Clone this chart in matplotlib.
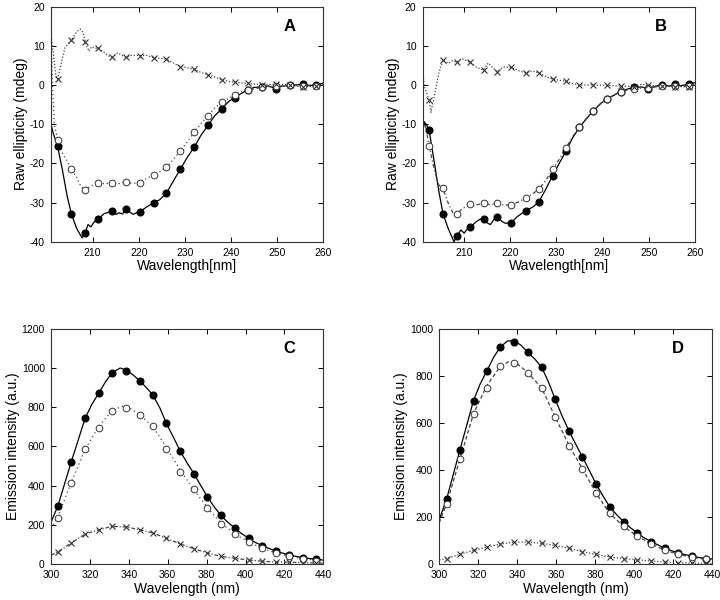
import matplotlib
matplotlib.use('Agg')
import matplotlib.pyplot as plt

plt.rcParams['font.family'] = ['Liberation Sans', 'DejaVu Sans']
plt.rcParams['axes.unicode_minus'] = False

# ---- CD spectra, panel A ----
cd_mark_x = [202.4, 205.4, 208.4, 211.2, 214.2, 217.2, 220.2, 223.2, 226.0, 229.0,
             232.0, 235.0, 238.0, 240.8, 243.6, 246.8, 249.7, 252.8, 255.5, 258.5]
a_filled = [-15.6, -32.9, -37.7, -34.2, -32.1, -31.7, -32.3, -30.0, -27.6, -21.5,
            -15.9, -10.3, -6.1, -3.2, -1.3, -0.5, -0.9, -0.1, 0.2, 0.0]
a_open = [-14.0, -21.4, -26.8, -24.9, -24.9, -24.7, -24.9, -22.9, -21.0, -16.8,
          -12.0, -7.8, -4.4, -2.6, -1.3, -0.6, -0.3, -0.1, -0.3, -0.2]
a_cross = [1.5, 11.4, 11.0, 9.4, 7.1, 7.1, 7.5, 7.0, 6.6, 4.7,
           4.0, 2.6, 1.4, 0.7, 0.4, 0.1, 0.2, 0.0, -0.5, -0.2]

a_solid_x = [201.0, 201.5, 202.4, 203.5, 204.5, 205.4, 206.5, 207.7, 208.4, 209.0, 209.6,
             210.3, 211.2, 212.5, 213.4, 214.2, 215.0, 215.8, 216.5, 217.2, 218.0, 218.8,
             219.5, 220.2, 221.5, 223.2, 224.5, 226.0, 227.5, 229.0, 230.5, 232.0, 233.5,
             235.0, 236.5, 238.0, 239.5, 240.8, 242.0, 243.6, 245.0, 246.8, 248.0, 249.7,
             251.0, 252.8, 254.0, 255.5, 257.0, 258.5, 260.0]
a_solid_y = [-10.0, -12.5, -15.6, -22.0, -28.5, -32.9, -36.5, -39.0, -37.7, -35.6, -36.2,
             -35.0, -34.2, -32.8, -32.5, -32.1, -33.0, -32.6, -32.9, -31.7, -32.4, -33.0,
             -32.6, -32.3, -31.3, -30.0, -29.3, -27.6, -24.5, -21.5, -18.5, -15.9, -12.8,
             -10.3, -7.8, -6.1, -4.2, -3.2, -2.3, -1.3, -0.6, -0.5, -0.2, -0.9,
             -0.3, -0.1, 0.0, 0.2, -0.1, 0.0, 0.5]
a_dot_x = [201.0, 201.3, 201.7, 202.4, 203.5, 204.5, 205.4, 206.5, 207.5, 208.4, 209.5,
           211.2, 212.5, 214.2, 215.5, 217.2, 218.5, 220.2, 221.5, 223.2, 224.5, 226.0,
           227.5, 229.0, 230.5, 232.0, 233.5, 235.0, 236.5, 238.0, 239.5, 240.8, 242.0,
           243.6, 246.8, 249.7, 252.8, 255.5, 258.5, 260.0]
a_dot_y = [12.0, 0.0, -10.0, -14.0, -17.5, -19.5, -21.4, -23.5, -26.0, -26.8, -25.8,
           -24.9, -25.2, -24.9, -25.2, -24.7, -25.1, -24.9, -24.0, -22.9, -22.2, -21.0,
           -19.0, -16.8, -14.5, -12.0, -9.8, -7.8, -5.8, -4.4, -3.4, -2.6, -1.8,
           -1.3, -0.6, -0.3, -0.1, -0.3, -0.2, 0.3]
a_xline_x = [201.0, 201.5, 202.0, 202.4, 203.0, 204.0, 205.4, 206.5, 207.3, 207.9, 208.4,
             209.2, 209.8, 210.5, 211.2, 212.5, 213.5, 214.2, 215.5, 216.3, 217.2, 218.5,
             220.2, 221.5, 223.2, 224.5, 226.0, 227.5, 229.0, 230.5, 232.0, 233.5, 235.0,
             236.5, 238.0, 239.5, 240.8, 243.6, 246.8, 249.7, 252.8, 255.5, 258.5, 260.0]
a_xline_y = [12.5, 8.0, 2.5, 1.5, 4.5, 9.5, 11.4, 13.5, 14.3, 13.5, 11.0,
             8.6, 9.8, 9.4, 9.4, 8.3, 7.4, 7.1, 8.2, 7.6, 7.1, 7.6,
             7.5, 7.6, 7.0, 6.8, 6.6, 5.6, 4.7, 4.4, 4.0, 3.2, 2.6,
             2.0, 1.4, 0.9, 0.7, 0.4, 0.1, 0.2, 0.0, -0.5, -0.2, 0.3]

# ---- CD spectra, panel B ----
b_mark_x = [202.4, 205.4, 208.4, 211.3, 214.2, 217.2, 220.2, 223.3, 226.2, 229.2,
            232.1, 235.0, 238.0, 240.9, 243.9, 246.9, 249.9, 252.9, 255.7, 258.8]
b_filled = [-11.5, -32.8, -38.5, -36.3, -34.1, -33.6, -35.1, -32.1, -29.8, -23.1,
            -16.8, -10.8, -6.6, -3.6, -1.7, -0.6, -0.9, 0.0, 0.3, 0.3]
b_open = [-15.5, -26.4, -32.8, -30.4, -30.2, -30.2, -30.6, -28.9, -26.6, -21.5,
          -16.0, -10.8, -6.6, -3.6, -1.7, -0.9, -0.7, -0.3, -0.2, -0.3]
b_cross = [-3.8, 6.4, 5.8, 5.8, 3.8, 3.4, 4.5, 3.1, 3.1, 1.5,
           0.9, 0.0, 0.0, -0.1, -0.3, -0.4, -0.1, -0.3, -0.4, -0.4]

b_solid_x = [201.0, 201.4, 202.0, 202.4, 203.5, 204.5, 205.4, 206.5, 207.8, 208.4, 209.3,
             210.0, 210.5, 211.3, 212.5, 213.5, 214.2, 215.0, 215.7, 216.5, 217.2, 218.2,
             219.0, 220.2, 221.5, 223.3, 224.8, 226.2, 227.5, 229.2, 230.7, 232.1, 233.5,
             235.0, 236.5, 238.0, 239.5, 240.9, 242.5, 243.9, 245.5, 246.9, 248.5, 249.9,
             251.5, 252.9, 254.5, 255.7, 257.0, 258.8, 260.0]
b_solid_y = [-12.0, -9.5, -10.5, -11.5, -19.5, -27.0, -32.8, -36.5, -40.0, -38.5, -37.0,
             -37.8, -37.0, -36.3, -35.0, -34.2, -34.1, -35.2, -35.6, -34.2, -33.6, -34.8,
             -35.3, -35.1, -33.6, -32.1, -31.2, -29.8, -27.0, -23.1, -19.8, -16.8, -13.5,
             -10.8, -8.6, -6.6, -4.8, -3.6, -2.6, -1.7, -1.0, -0.6, -0.5, -0.9,
             -0.3, 0.0, -0.3, 0.3, -0.2, 0.3, 0.6]
b_dash_x = [201.0, 201.4, 202.4, 203.5, 204.5, 205.4, 206.5, 207.5, 208.4, 209.7, 211.3,
            212.5, 214.2, 215.5, 217.2, 218.5, 220.2, 221.8, 223.3, 224.8, 226.2, 227.7,
            229.2, 230.7, 232.1, 233.5, 235.0, 236.5, 238.0, 239.5, 240.9, 242.5, 243.9,
            245.5, 246.9, 249.9, 252.9, 255.7, 258.8, 260.0]
b_dash_y = [-10.5, -9.1, -15.5, -21.5, -25.5, -26.4, -30.0, -32.5, -32.8, -31.5, -30.4,
            -30.6, -30.2, -30.5, -30.2, -30.6, -30.6, -29.8, -28.9, -27.8, -26.6, -24.3,
            -21.5, -18.8, -16.0, -13.2, -10.8, -8.5, -6.6, -4.9, -3.6, -2.5, -1.7,
            -1.2, -0.9, -0.7, -0.3, -0.2, -0.3, 0.0]
b_xline_x = [201.0, 201.3, 201.7, 202.4, 202.8, 203.5, 204.5, 205.4, 206.5, 207.5, 208.4,
             209.5, 210.3, 211.3, 212.7, 214.2, 215.2, 216.3, 217.2, 218.5, 220.2, 221.7,
             223.3, 224.7, 226.2, 227.7, 229.2, 230.7, 232.1, 233.5, 235.0, 238.0, 240.9,
             243.9, 246.9, 248.5, 249.9, 252.9, 255.7, 258.8, 260.0]
b_xline_y = [5.0, 0.0, -1.5, -3.8, -7.0, -3.0, 3.0, 6.4, 5.5, 6.2, 5.8,
             6.8, 6.3, 5.8, 4.5, 3.8, 5.6, 4.3, 3.4, 4.6, 4.5, 3.7,
             3.1, 3.6, 3.1, 2.2, 1.5, 1.2, 0.9, 0.4, 0.0, 0.0, -0.1,
             -0.3, -0.4, 0.2, -0.1, -0.3, -0.4, -0.4, 0.0]

# ---- fluorescence, panel C ----
c_mark_x = [303.4, 310.3, 317.5, 324.4, 331.3, 338.5, 345.5, 352.4, 359.3, 366.5,
            373.5, 380.4, 387.3, 394.7, 401.7, 408.6, 415.6, 422.5, 429.4, 436.3]
c_filled = [294, 519, 744, 870, 975, 987, 936, 861, 717, 574,
            460, 342, 248, 182, 131, 94, 65, 46, 32, 24]
c_open = [235, 412, 589, 694, 780, 797, 759, 703, 589, 471,
          381, 284, 203, 151, 112, 80, 54, 39, 26, 17]
c_cross = [61, 107, 153, 174, 192, 189, 175, 158, 131, 102,
           78, 56, 39, 29, 20, 14, 10, 9, 7, 5]
c_solid_x = [300.0, 303.4, 310.3, 317.5, 321.0, 324.4, 328.0, 331.3, 335.5, 338.5, 342.0,
             345.5, 349.0, 352.4, 356.0, 359.3, 363.0, 366.5, 370.0, 373.5, 377.0, 380.4,
             383.8, 387.3, 391.0, 394.7, 398.0, 401.7, 405.0, 408.6, 415.6, 422.5, 429.4,
             436.3, 440.0]
c_solid_y = [215, 294, 519, 744, 815, 870, 930, 975, 1000, 990, 966,
             936, 900, 861, 795, 717, 645, 574, 515, 460, 400, 342,
             293, 248, 212, 182, 155, 131, 110, 94, 65, 46, 32,
             24, 20]
c_dot_x = [300.0, 303.4, 310.3, 317.5, 324.4, 331.3, 336.5, 340.5, 345.5, 352.4, 359.3,
           366.5, 373.5, 380.4, 387.3, 394.7, 401.7, 408.6, 415.6, 422.5, 429.4, 436.3, 440.0]
c_dot_y = [180, 240, 415, 585, 700, 782, 805, 795, 762, 700, 595,
           478, 378, 288, 210, 152, 112, 80, 56, 40, 28, 19, 15]
c_xline_x = [300.0] + c_mark_x + [440.0]
c_xline_y = [45] + c_cross + [4]

# ---- fluorescence, panel D ----
d_mark_x = [303.8, 310.6, 317.6, 324.5, 331.4, 338.4, 345.4, 352.6, 359.5, 366.7,
            373.5, 380.5, 387.4, 394.6, 401.6, 408.8, 415.7, 422.5, 429.7, 436.7]
d_filled = [276, 484, 695, 822, 923, 946, 901, 836, 701, 564,
            455, 340, 244, 180, 132, 95, 67, 47, 33, 23]
d_open = [256, 445, 639, 748, 840, 854, 814, 748, 625, 503,
          404, 302, 215, 160, 119, 85, 59, 42, 28, 21]
d_cross = [23, 41, 58, 72, 85, 93, 93, 88, 79, 67,
           52, 41, 30, 23, 18, 13, 8, 6, 4, 3]
d_solid_x = [300.0, 303.8, 310.6, 317.6, 321.0, 324.5, 328.0, 331.4, 335.0, 338.4, 342.0,
             345.4, 349.0, 352.6, 356.0, 359.5, 363.0, 366.7, 370.0, 373.5, 377.0, 380.5,
             384.0, 387.4, 391.0, 394.6, 398.0, 401.6, 405.0, 408.8, 415.7, 422.5, 429.7,
             436.7, 440.0]
d_solid_y = [188, 276, 484, 695, 765, 822, 880, 923, 948, 950, 930,
             901, 872, 836, 775, 701, 630, 564, 510, 455, 398, 340,
             290, 244, 210, 180, 155, 132, 112, 95, 67, 47, 33,
             23, 21]
d_dash_x = [300.0, 303.8, 310.6, 317.6, 324.5, 331.4, 336.0, 340.0, 345.4, 352.6, 359.5,
            366.7, 373.5, 380.5, 387.4, 394.6, 401.6, 408.8, 415.7, 422.5, 429.7, 436.7, 440.0]
d_dash_y = [175, 256, 445, 639, 760, 840, 862, 852, 814, 748, 625,
            503, 404, 302, 215, 160, 119, 85, 59, 42, 28, 21, 18]
d_xline_x = [300.0] + d_mark_x + [440.0]
d_xline_y = [18] + d_cross + [2]

fig = plt.figure(figsize=(7.2, 6.0), dpi=100)
axA = fig.add_axes([0.071, 0.597, 0.378, 0.392])
axB = fig.add_axes([0.587, 0.597, 0.378, 0.392])
axC = fig.add_axes([0.071, 0.060, 0.378, 0.392])
axD = fig.add_axes([0.610, 0.060, 0.379, 0.392])

mk = dict(linestyle='none', markersize=4.8)


def style(ax, letter, xlab, ylab):
    ax.tick_params(direction='in', top=True, right=True, length=3.5, width=0.7,
                   labelsize=7.5)
    ax.tick_params(axis='x', pad=4.5)
    ax.tick_params(axis='y', pad=4.5)
    for s in ax.spines.values():
        s.set_linewidth(0.8)
        s.set_color('#333333')
    ax.set_xlabel(xlab, fontsize=10, labelpad=1)
    ax.set_ylabel(ylab, fontsize=10, labelpad=1)
    ax.text(0.875, 0.915, letter, transform=ax.transAxes, fontsize=12,
            fontweight='bold', ha='center', va='center')


def draw(ax, sx, sy, ox, oy, ostyle, xx, xy, xstyle, mx, fy, oyv, cy):
    ax.plot(sx, sy, color='black', lw=0.9)
    ax.plot(ox, oy, color='#444444', lw=0.9, linestyle=ostyle)
    ax.plot(xx, xy, color='#444444', lw=0.9, linestyle=xstyle)
    ax.plot(mx, fy, marker='o', color='black', **mk)
    ax.plot(mx, oyv, marker='o', mfc='white', mec='#333333', mew=0.7, **mk)
    ax.plot(mx, cy, marker='x', color='#333333', mew=0.8, **mk)


draw(axA, a_solid_x, a_solid_y, a_dot_x, a_dot_y, (0, (1, 2.2)),
     a_xline_x, a_xline_y, (0, (1, 1.5)), cd_mark_x, a_filled, a_open, a_cross)
draw(axB, b_solid_x, b_solid_y, b_dash_x, b_dash_y, (0, (3, 2, 1, 2)),
     b_xline_x, b_xline_y, (0, (1, 1.5)), b_mark_x, b_filled, b_open, b_cross)
draw(axC, c_solid_x, c_solid_y, c_dot_x, c_dot_y, (0, (1, 2.5)),
     c_xline_x, c_xline_y, (0, (3, 1.5, 1, 1.5)), c_mark_x, c_filled, c_open, c_cross)
draw(axD, d_solid_x, d_solid_y, d_dash_x, d_dash_y, (0, (3, 2)),
     d_xline_x, d_xline_y, (0, (1, 1.5)), d_mark_x, d_filled, d_open, d_cross)

for ax in (axA, axB):
    ax.set_xlim(201, 260)
    ax.set_ylim(-40, 20)
    ax.set_xticks([210, 220, 230, 240, 250, 260])
    ax.set_yticks([-40, -30, -20, -10, 0, 10, 20])
style(axA, 'A', 'Wavelength[nm]', 'Raw ellipticity (mdeg)')
style(axB, 'B', 'Wavelength[nm]', 'Raw ellipticity (mdeg)')

axC.set_xlim(300, 440)
axC.set_ylim(0, 1200)
axC.set_xticks(range(300, 441, 20))
axC.set_yticks(range(0, 1201, 200))
style(axC, 'C', 'Wavelength (nm)', 'Emission intensity (a.u.)')

axD.set_xlim(300, 440)
axD.set_ylim(0, 1000)
axD.set_xticks(range(300, 441, 20))
axD.set_yticks(range(0, 1001, 200))
style(axD, 'D', 'Wavelength (nm)', 'Emission intensity (a.u.)')

fig.savefig('out.png', dpi=100)
